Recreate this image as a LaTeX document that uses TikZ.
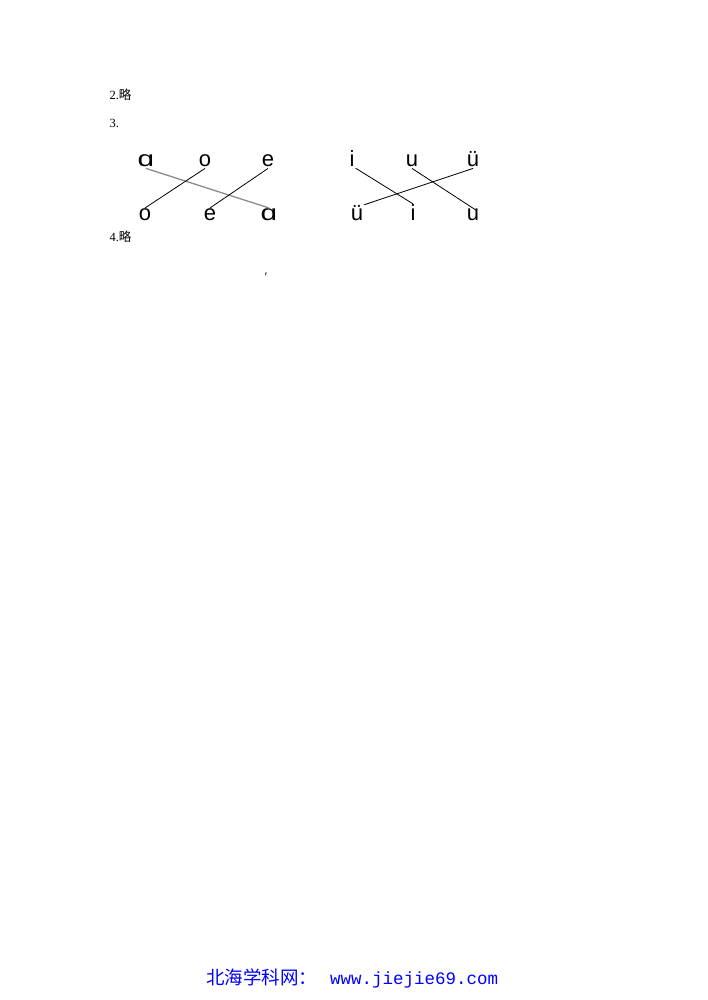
\documentclass[tikz,border=0pt]{standalone}
\usepackage{fontspec}
\setmainfont{Liberation Serif}
\setsansfont{Liberation Sans}
\setmonofont{Liberation Mono}
\newfontfamily\cjk{Noto Sans CJK SC}
\usetikzlibrary{positioning}
\newcommand{\alphaglyph}{\scalebox{1.35}[1]{ɑ}}
\tikzset{pinyin/.style={font=\sffamily\fontsize{22}{22}\selectfont,inner sep=1pt,anchor=base}}

\begin{document}
\begin{tikzpicture}[x=1pt,y=-1pt]
\useasboundingbox[fill=white] (0,0) rectangle (707,1000);
\node[font=\fontsize{12.5}{12.5}\selectfont,anchor=base west] (n2) at (106,100) {2.{\cjk 略}};
\node[font=\fontsize{12.5}{12.5}\selectfont,anchor=base west] (n3) at (106,128) {3.};
\node[font=\fontsize{12.5}{12.5}\selectfont,anchor=base west] (n4) at (106,241) {4.{\cjk 略}};

% left group
\node[pinyin] (ta) at (146,167) {\alphaglyph};
\node[pinyin] (to) at (205,167) {o};
\node[pinyin] (te) at (268,167) {e};
\node[pinyin] (bo) at (145,221) {o};
\node[pinyin] (be) at (210,221) {e};
\node[pinyin] (ba) at (269,221) {\alphaglyph};
\draw[gray!90,line width=1.3pt] (ta.south) -- (ba.north);
\draw[line width=0.8pt] (to.south) -- (bo.north);
\draw[line width=0.8pt] (te.south) -- (be.north);

% right group
\node[pinyin] (ti) at (352,167) {i};
\node[pinyin] (tu) at (412,167) {u};
\node[pinyin] (tv) at (473,167) {ü};
\node[pinyin] (bv) at (357,221) {ü};
\node[pinyin] (bi) at (413,221) {i};
\node[pinyin] (bu) at (473,221) {u};
\draw[line width=0.8pt] (ti.south east) -- (bi.north);
\draw[line width=0.8pt,shorten >=-4pt] (tu.south) -- (bu.north);
\draw[line width=0.8pt] (tv.south) -- (bv.north east);

\node[font=\fontsize{13}{13}\selectfont] (tick) at (266,277) {′};

\node[text=blue,anchor=base west,inner sep=0pt] (foot) at (206,984) {{\cjk\fontsize{18.5}{18.5}\selectfont 北海学科网：}\hspace{13pt}{\ttfamily\fontsize{17.5}{17.5}\selectfont www.jiejie69.com}};
\end{tikzpicture}
\end{document}
